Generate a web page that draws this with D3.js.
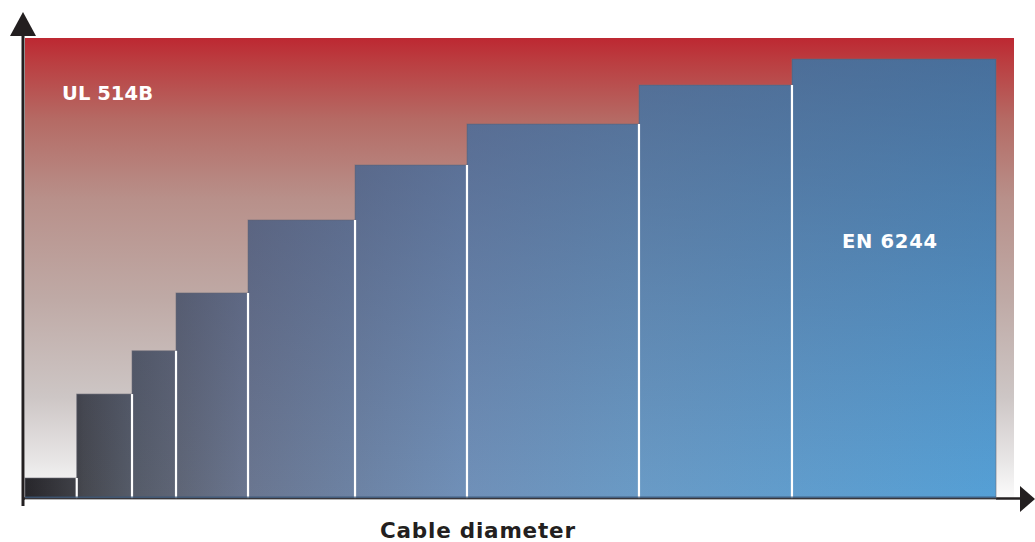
<!DOCTYPE html>
<html lang="en">
  <head>
    <meta charset="utf-8">
    <title>Cable diameter</title>
    <script src="https://d3js.org/d3.v7.min.js"></script>
    <style>
      body { margin: 0; background: #fff; }
      svg text { font-family: "DejaVu Sans", "Lato", sans-serif; font-weight: 700; }
    </style>
  </head>
  <body>
    <svg id="chart" width="1035" height="542"></svg>

    <script type="text/javascript">
      // step edges along the cable diameter (arbitrary units 0-100)
      var binEdges = [0, 5.23, 10.82, 15.27, 22.55, 33.37, 44.69, 62.08, 77.55, 98.18];
      // height of each step (arbitrary units 0-100)
      var stepValues = [4.35, 22.6, 32.0, 44.57, 60.43, 72.39, 81.3, 89.78, 95.43];
      var zoneLabels = ["UL 514B", "EN 6244"];
      var axisTitle = "Cable diameter";

      var svg = d3.select("#chart");
      var plotLeft = 25, plotRight = 1014, plotTop = 38, plotBottom = 498;

      var x = d3.scaleLinear().domain([0, 100]).range([plotLeft, plotRight]);
      var y = d3.scaleLinear().domain([0, 100]).range([plotBottom, plotTop]);

      var steps = stepValues.map(function(v, i) {
        return { x0: binEdges[i], x1: binEdges[i + 1], value: v, last: i == stepValues.length - 1 };
      });

      var defs = svg.append("defs");

      // red to white background
      var bg = defs.append("linearGradient")
        .attr("id", "bgGrad")
        .attr("x1", 0).attr("y1", 0).attr("x2", 0).attr("y2", 1);
      [[0, "#bd2832"], [0.05, "#bb3d40"], [0.18, "#b56b65"], [0.35, "#b8908a"],
       [0.57, "#bfaaa6"], [0.78, "#cdc6c5"], [0.92, "#e8e6e6"], [1, "#fbfbfb"]]
        .forEach(function(s) { bg.append("stop").attr("offset", s[0]).attr("stop-color", s[1]); });

      // dark grey to blue across the steps
      var barGrad = defs.append("linearGradient")
        .attr("id", "barGrad")
        .attr("gradientUnits", "userSpaceOnUse")
        .attr("x1", x(binEdges[0])).attr("y1", 0)
        .attr("x2", x(binEdges[binEdges.length - 1])).attr("y2", 0);
      [[0, "#27262a"], [0.05, "#3e3f45"], [0.06, "#46484f"], [0.11, "#555b68"], [0.16, "#5f6677"],
       [0.23, "#6a7690"], [0.45, "#7090b8"], [0.63, "#6a9bc6"], [1, "#55a0d6"]]
        .forEach(function(s) { barGrad.append("stop").attr("offset", s[0]).attr("stop-color", s[1]); });

      // darker towards the top
      var shade = defs.append("linearGradient")
        .attr("id", "shadeGrad")
        .attr("gradientUnits", "userSpaceOnUse")
        .attr("x1", 0).attr("y1", y(0))
        .attr("x2", 0).attr("y2", y(d3.max(stepValues)));
      shade.append("stop").attr("offset", 0).attr("stop-color", "#3a3f62").attr("stop-opacity", 0);
      shade.append("stop").attr("offset", 1).attr("stop-color", "#3a3f62").attr("stop-opacity", 0.5);

      svg.append("rect")
        .attr("x", plotLeft)
        .attr("y", plotTop)
        .attr("width", plotRight - plotLeft)
        .attr("height", plotBottom - plotTop)
        .attr("fill", "url(#bgGrad)");

      // axis lines
      svg.append("line")
        .attr("x1", 23).attr("x2", 1022)
        .attr("y1", plotBottom + 0.5).attr("y2", plotBottom + 0.5)
        .attr("stroke", "#231f20").attr("stroke-width", 2.5);

      var bars = svg.append("g");

      bars.selectAll(".step").data(steps).enter().append("rect")
        .attr("class", "step")
        .attr("x", function(d) { return x(d.x0) })
        .attr("y", function(d) { return y(d.value) })
        .attr("width", function(d) { return x(d.x1) - x(d.x0) })
        .attr("height", function(d) { return y(0) - y(d.value) })
        .attr("fill", "url(#barGrad)")
        .attr("stroke", "rgba(110,110,120,0.6)")
        .attr("stroke-width", 1);

      bars.selectAll(".shade").data(steps).enter().append("rect")
        .attr("class", "shade")
        .attr("x", function(d) { return x(d.x0) })
        .attr("y", function(d) { return y(d.value) })
        .attr("width", function(d) { return x(d.x1) - x(d.x0) })
        .attr("height", function(d) { return y(0) - y(d.value) })
        .attr("fill", "url(#shadeGrad)");

      // white separators on the right edge of each step
      bars.selectAll(".sep").data(steps.filter(function(d) { return !d.last })).enter().append("line")
        .attr("class", "sep")
        .attr("x1", function(d) { return x(d.x1) }).attr("x2", function(d) { return x(d.x1) })
        .attr("y1", function(d) { return y(d.value) }).attr("y2", y(0))
        .attr("stroke", "#ffffff").attr("stroke-width", 2.2);

      // dark rim at the base of the steps
      bars.append("line")
        .attr("x1", x(binEdges[0])).attr("x2", x(binEdges[binEdges.length - 1]))
        .attr("y1", y(0) - 0.8).attr("y2", y(0) - 0.8)
        .attr("stroke", "#3b5677").attr("stroke-opacity", 0.8).attr("stroke-width", 1.5);
      bars.append("line")
        .attr("x1", x(binEdges[0])).attr("x2", x(binEdges[binEdges.length - 1]))
        .attr("y1", y(0) + 1.5).attr("y2", y(0) + 1.5)
        .attr("stroke", "#b5b5b5").attr("stroke-width", 1);

      svg.append("line")
        .attr("x1", 23).attr("x2", 23)
        .attr("y1", 30).attr("y2", 506)
        .attr("stroke", "#231f20").attr("stroke-width", 3);

      // arrow heads
      svg.append("path")
        .attr("d", "M23,12 L36,36 L10,36 Z")
        .attr("fill", "#231f20");
      svg.append("path")
        .attr("d", "M1035,499 L1020,486 L1020,512 Z")
        .attr("fill", "#231f20");

      svg.append("text")
        .attr("x", 62).attr("y", 100)
        .attr("fill", "#ffffff")
        .attr("font-size", 19.5)
        .attr("textLength", 91)
        .attr("lengthAdjust", "spacing")
        .text(zoneLabels[0]);

      svg.append("text")
        .attr("x", 842).attr("y", 248)
        .attr("fill", "#ffffff")
        .attr("font-size", 19.5)
        .attr("textLength", 95)
        .attr("lengthAdjust", "spacing")
        .text(zoneLabels[1]);

      svg.append("text")
        .attr("x", 380).attr("y", 538)
        .attr("fill", "#231f20")
        .attr("font-size", 21.5)
        .attr("textLength", 195)
        .attr("lengthAdjust", "spacing")
        .text(axisTitle);
    </script>
  </body>
</html>
